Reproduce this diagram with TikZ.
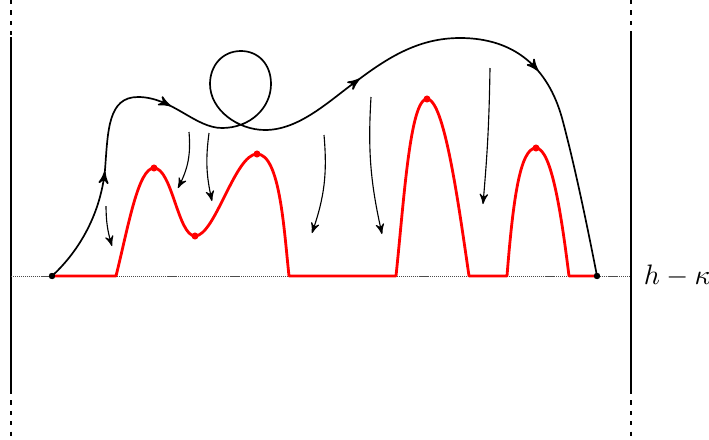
\documentclass[tikz,border=0pt]{standalone}
\usepackage{amsmath,amssymb}
\usepackage{tikz}
\usetikzlibrary{arrows,decorations.markings}

\begin{document}
\begin{tikzpicture}[
    x=0.0125cm, y=-0.0125cm,
    >=stealth',
    wall/.style={thick},
    wallend/.style={thick, dash pattern=on 1.5pt off 2.2pt},
    level/.style={black!70, very thin, dash pattern=on 0.4pt off 0.3pt},
    profile/.style={red, line width=1pt, line join=round},
    orbit/.style={semithick, postaction={decorate}, decoration={markings,
        mark=at position 0.111 with {\arrow{>}},
        mark=at position 0.227 with {\arrow{>}},
        mark=at position 0.616 with {\arrow{>}},
        mark=at position 0.80 with {\arrow{>}}}},
    flow/.style={->, thin},
    enddot/.style={circle, fill, inner sep=0pt, minimum size=2.2pt},
    critdot/.style={circle, fill=red, inner sep=0pt, minimum size=2.5pt}
]
\useasboundingbox (0,0) rectangle (709,439);

% side walls
\coordinate (L0) at (11,0);
\coordinate (L1) at (11,37);
\coordinate (L2) at (11,390);
\coordinate (L3) at (11,439);
\coordinate (R0) at (631,0);
\coordinate (R1) at (631,35);
\coordinate (R2) at (631,390);
\coordinate (R3) at (631,439);
\draw[wallend] (L0) -- (L1);
\draw[wall] (L1) -- (L2);
\draw[wallend] (L2) -- (L3);
\draw[wallend] (R0) -- (R1);
\draw[wall] (R1) -- (R2);
\draw[wallend] (R2) -- (R3);

% level h - kappa
\coordinate (lvlL) at (11,276);
\coordinate (lvlR) at (631,276);
\draw[level] (lvlL) -- (lvlR);
\node[anchor=west] (lab) at (634,276) {$h-\kappa$};

% end points and critical points
\node[enddot] (a) at (52,276) {};
\node[enddot] (b) at (597,276) {};
\coordinate (p1) at (154,168);
\coordinate (q1) at (195,236);
\coordinate (p2) at (257,154);
\coordinate (p3) at (427,99);
\coordinate (p4) at (536,148);

% red profile
\draw[profile] (a.center) -- (116,276)
  .. controls (128,228) and (138,168) .. (p1)
  .. controls (172,168) and (178,236) .. (q1)
  .. controls (215,236) and (235,154) .. (p2)
  .. controls (280,154) and (284,230) .. (289,276) -- (396,276)
  .. controls (404,200) and (410,99) .. (p3)
  .. controls (444,99) and (458,200) .. (469,276) -- (507,276)
  .. controls (513,200) and (520,148) .. (p4)
  .. controls (552,148) and (562,220) .. (569,276) -- (b.center);

% black curve with loop
\draw[orbit] (a.center) .. controls (76,254) and (100,218) .. (105,170)
  .. controls (108,130) and (108,97) .. (138,97)
  .. controls (172,97) and (195,128) .. (222,128)
  .. controls (250,128) and (271,108) .. (271,84)
  .. controls (271,64) and (258,51) .. (241,51)
  .. controls (222,51) and (210,66) .. (210,84)
  .. controls (210,110) and (238,130) .. (265,130)
  .. controls (300,130) and (330,100) .. (358,80)
  .. controls (390,56) and (420,38) .. (460,38)
  .. controls (515,38) and (548,68) .. (562,118)
  .. controls (576,170) and (590,240) .. (b.center);

% flow arrows
\coordinate (f1s) at (106,206); \coordinate (f1e) at (112,246);
\coordinate (f2s) at (189,132); \coordinate (f2e) at (178,188);
\coordinate (f3s) at (209,133); \coordinate (f3e) at (212,201);
\coordinate (f4s) at (324,135); \coordinate (f4e) at (312,233);
\coordinate (f5s) at (371,97);  \coordinate (f5e) at (382,234);
\coordinate (f6s) at (490,68);  \coordinate (f6e) at (483,204);
\draw[flow] (f1s) to[bend right=8] (f1e);
\draw[flow] (f2s) to[bend left=16] (f2e);
\draw[flow] (f3s) to[bend right=10] (f3e);
\draw[flow] (f4s) to[bend left=12] (f4e);
\draw[flow] (f5s) to[bend right=8] (f5e);
\draw[flow] (f6s) to[bend left=2] (f6e);

% dots on top
\node[critdot] at (p1) {};
\node[critdot] at (q1) {};
\node[critdot] at (p2) {};
\node[critdot] at (p3) {};
\node[critdot] at (p4) {};
\node[enddot] at (a) {};
\node[enddot] at (b) {};
\end{tikzpicture}
\end{document}
